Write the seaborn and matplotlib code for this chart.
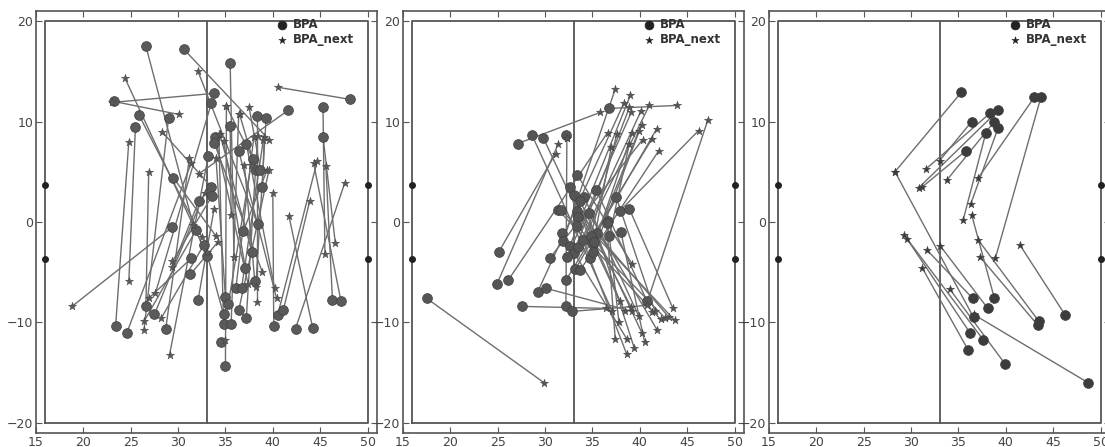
import pandas as pd
import matplotlib
matplotlib.use("Agg")
import matplotlib.pyplot as plt
import seaborn as sns

# field / goal geometry (yards)
field_x = [16, 50, 50, 16, 16]
field_y = [-20, -20, 20, 20, -20]
mid_x = [33, 33]
mid_y = [-20, 20]
post_x = [16, 16, 50, 50]
post_y = [3.66, -3.66, 3.66, -3.66]

# panel 1: BPA -> BPA_next
p1_bpa_x = [26.6, 30.6, 35.5, 23.2, 33.8, 33.5, 25.9, 25.5, 23.4, 29.0, 33.1, 33.5, 26.6, 29.5,
            29.4, 31.9, 32.7, 31.4, 32.1, 27.5, 24.6, 28.7, 33.2, 33.6, 32.2, 38.4, 48.2, 41.6,
            45.3, 45.3, 46.3, 47.2, 40.5, 42.4, 44.2, 40.1, 41.1, 31.3, 35.5, 38.3, 39.3, 33.9,
            33.8, 37.2, 36.4, 37.9, 38.2, 38.7, 38.9, 36.9, 37.8, 37.1, 38.1, 36.1, 36.7, 35.0,
            35.3, 36.4, 37.2, 34.8, 34.8, 35.6, 34.5, 35.0]
p1_bpa_y = [17.5, 17.2, 15.8, 12.0, 12.8, 11.8, 10.6, 9.5, -10.4, 10.4, -3.4, 3.5, -8.4, 4.4,
            -0.5, -0.8, -2.3, -3.6, -7.8, -9.2, -11.0, -10.6, 6.6, 2.6, 2.1, -0.2, 12.2, 11.1,
            11.4, 8.5, -7.8, -7.9, -9.3, -10.6, -10.5, -10.4, -8.8, -5.2, 9.6, 10.5, 10.4, 8.5,
            7.9, 7.8, 7.1, 6.3, 5.2, 5.2, 3.5, -0.9, -3.0, -4.6, -5.9, -6.6, -6.6, -7.5,
            -8.2, -8.8, -9.6, -9.2, -10.2, -10.2, -11.9, -14.3]
p1_next_x = [31.6, 39.6, 35.9, 30.1, 23.0, 27.6, 32.5, 24.8, 24.8, 26.4, 24.4, 28.3, 26.9, 34.0,
             18.8, 26.4, 28.2, 26.9, 33.8, 32.8, 31.4, 31.2, 29.1, 29.4, 29.4, 32.1, 40.6, 32.2,
             45.5, 46.6, 45.6, 44.3, 44.7, 47.6, 41.7, 40.0, 43.9, 34.2, 35.6, 38.3, 38.2, 37.4,
             38.9, 40.2, 40.4, 35.1, 36.5, 37.5, 39.1, 39.4, 34.4, 34.8, 37.0, 38.0, 39.0, 34.0,
             37.7, 39.6, 38.4, 33.0, 34.3, 36.4, 35.0, 35.1]
p1_next_y = [-0.3, 8.2, -3.5, 10.7, 11.9, -7.1, -1.5, -5.9, 8.0, -10.7, 14.3, 9.0, 5.0, -1.4,
             -8.4, -9.9, -9.6, -7.6, 1.3, 2.9, 5.9, 6.4, -13.2, -3.9, -4.5, 15.0, 13.4, 4.8,
             -3.2, -2.1, 5.6, 5.9, 6.1, 3.9, 0.6, 2.9, 2.1, -2.0, 0.7, -8.0, -6.5, -6.2,
             -5.0, -6.6, -7.6, 11.5, 10.7, 11.4, 8.5, 5.2, 8.8, 8.1, 5.7, 8.5, 8.2, 6.4,
             5.7, 5.2, 8.6, -3.0, 8.8, 10.7, -11.7, 11.5]

# panel 2
p2_bpa_x = [27.1, 36.7, 28.6, 29.8, 32.2, 17.5, 25.1, 24.9, 26.1, 29.2, 30.1, 27.6, 32.2, 32.8,
            40.8, 37.9, 38.9,
            33.4, 32.6, 33.0, 34.1, 35.4, 37.5, 31.4, 31.7, 33.4, 33.5, 34.6, 36.6, 33.7,
            36.5, 31.8, 35.5, 38.0, 33.4,
            31.9, 32.6, 33.0, 32.3, 33.5, 34.0, 34.8, 35.1, 36.8, 34.7, 35.1, 35.2, 30.5,
            32.2, 33.2, 33.7]
p2_bpa_y = [7.8, 11.3, 8.7, 8.4, 8.7, -7.6, -3.0, -6.2, -5.8, -7.0, -6.6, -8.4, -8.4, -8.9,
            -7.9, 1.1, 1.3,
            4.7, 3.5, 2.7, 2.5, 3.2, 2.5, 1.2, 1.2, 1.1, 0.5, 0.9, 0.1, 2.1,
            -0.1, -1.1, -1.1, -1.0, -0.4,
            -1.9, -2.4, -3.1, -3.5, -2.5, -1.8, -1.4, -2.2, -1.4, -3.6, -3.0, -2.0, -3.6,
            -5.8, -4.7, -4.8]
p2_next_x = [35.8, 43.9, 37.1, 37.9, 32.3, 29.9, 31.1, 31.4, 36.6, 38.3, 39.2, 36.4, 32.3, 40.8,
             47.2, 46.2, 43.5,
             39.2, 38.4, 39.1, 39.9, 41.3, 41.6, 42.2, 42.7, 43.1, 43.7, 41.8, 37.8, 40.2,
             37.4, 38.6, 39.4, 40.5, 38.6,
             37.4, 39.0, 38.9, 39.1, 40.1, 41.0, 37.6, 37.0, 38.9, 39.2, 40.2, 39.9, 40.3,
             41.3, 41.8, 42.0]
p2_next_y = [10.9, 11.6, -8.9, -7.9, 8.4, -16.0, 6.8, 7.8, 8.9, 11.8, -8.9, -8.6, 8.4, -8.3,
             10.2, 9.1, -8.6,
             -4.2, -8.9, -8.5, -9.4, -9.0, -8.9, -9.7, -9.6, -9.5, -9.8, -10.7, -10.0, -11.0,
             -11.6, -11.6, -12.5, -11.9, -13.1,
             13.2, 12.6, 11.4, 10.9, 11.0, 11.6, 8.8, 7.5, 7.8, 8.9, 9.7, 9.1, 8.2,
             8.3, 9.3, 7.1]

# panel 3
p3_bpa_x = [35.3, 36.4, 38.3, 39.2, 35.8, 38.8, 37.9, 39.2, 43.0, 43.7, 38.8, 43.5, 43.4, 46.3,
            36.5, 36.2, 37.6, 36.0, 38.1, 39.9, 36.6, 48.7]
p3_bpa_y = [12.9, 10.0, 10.8, 11.1, 7.1, 10.0, 8.9, 9.4, 12.4, 12.4, -7.6, -9.9, -10.3, -9.3,
            -7.6, -11.0, -11.7, -12.7, -8.6, -14.1, -9.5, -16.0]
p3_next_x = [28.3, 33.0, 31.6, 30.8, 31.2, 33.8, 35.5, 36.3, 37.1, 38.9, 36.4, 37.1, 37.3, 41.5,
             31.7, 29.3, 29.6, 31.2, 33.1, 34.1, 28.3, 36.6]
p3_next_y = [5.0, 6.1, 5.3, 3.4, 3.5, 4.2, 0.2, 1.8, 4.4, -3.6, 0.7, -1.8, -3.5, -2.3,
             -2.8, -1.3, -1.7, -4.6, -2.4, -6.7, 5.0, -9.2]

panels = [
    (p1_bpa_x, p1_bpa_y, p1_next_x, p1_next_y),
    (p2_bpa_x, p2_bpa_y, p2_next_x, p2_next_y),
    (p3_bpa_x, p3_bpa_y, p3_next_x, p3_next_y),
]
marker_colors = ["#5a5a5a", "#555555", "#3c3c3c"]

sns.set_style("ticks")
plt.rcParams["font.family"] = ["DejaVu Sans"]
plt.rcParams["xtick.direction"] = "in"
plt.rcParams["ytick.direction"] = "in"
plt.rcParams["xtick.top"] = True
plt.rcParams["ytick.right"] = True

fig = plt.figure(figsize=(11.05, 4.47), dpi=100)
lefts = [36 / 1105, 403 / 1105, 769 / 1105]

for i, (bx, by, nx, ny) in enumerate(panels):
    ax = fig.add_axes([lefts[i], 14 / 447, 341 / 1105, 422 / 447])
    mc = marker_colors[i]

    # field outline, half line, goal posts
    ax.plot(field_x, field_y, color="#555555", lw=1.3, zorder=1)
    ax.plot(mid_x, mid_y, color="#555555", lw=1.3, zorder=1)
    ax.plot(post_x, post_y, "o", color="#222222", ms=4, zorder=2)

    seg = pd.DataFrame({
        "pair": list(range(len(bx))) * 2,
        "x": list(bx) + list(nx),
        "y": list(by) + list(ny),
    })
    sns.lineplot(data=seg, x="x", y="y", units="pair", estimator=None, sort=False,
                 color="#6e6e6e", lw=1.0, ax=ax, zorder=2)

    bpa = pd.DataFrame({"x": bx, "y": by})
    nxt = pd.DataFrame({"x": nx, "y": ny})
    sns.scatterplot(data=bpa, x="x", y="y", marker="o", s=50, color=mc,
                    edgecolor="#404040", linewidth=0.5, ax=ax, zorder=3, label="BPA")
    sns.scatterplot(data=nxt, x="x", y="y", marker="*", s=38, color=mc,
                    edgecolor="#404040", linewidth=0.3, ax=ax, zorder=3, label="BPA_next")

    ax.set_xlim(15, 51)
    ax.set_ylim(-21, 21)
    ax.set_xticks([15, 20, 25, 30, 35, 40, 45, 50])
    ax.set_yticks([-20, -10, 0, 10, 20])
    ax.set_xlabel("")
    ax.set_ylabel("")
    ax.tick_params(colors="#555555", labelcolor="#444444", labelsize=9, length=4, pad=2)
    for sp in ax.spines.values():
        sp.set_color("#555555")
        sp.set_linewidth(1.2)

    leg = ax.legend(loc="upper left", frameon=False, prop={"weight": "bold", "size": 8.5},
                    handlelength=1.0, handletextpad=0.4, borderaxespad=0.0, labelspacing=0.15,
                    markerscale=0.9, bbox_to_anchor=(0.69, 0.995))
    for h in leg.legend_handles:
        h.set_color("#222222")
    for t in leg.get_texts():
        t.set_color("#333333")

fig.savefig("out.png", dpi=100)
